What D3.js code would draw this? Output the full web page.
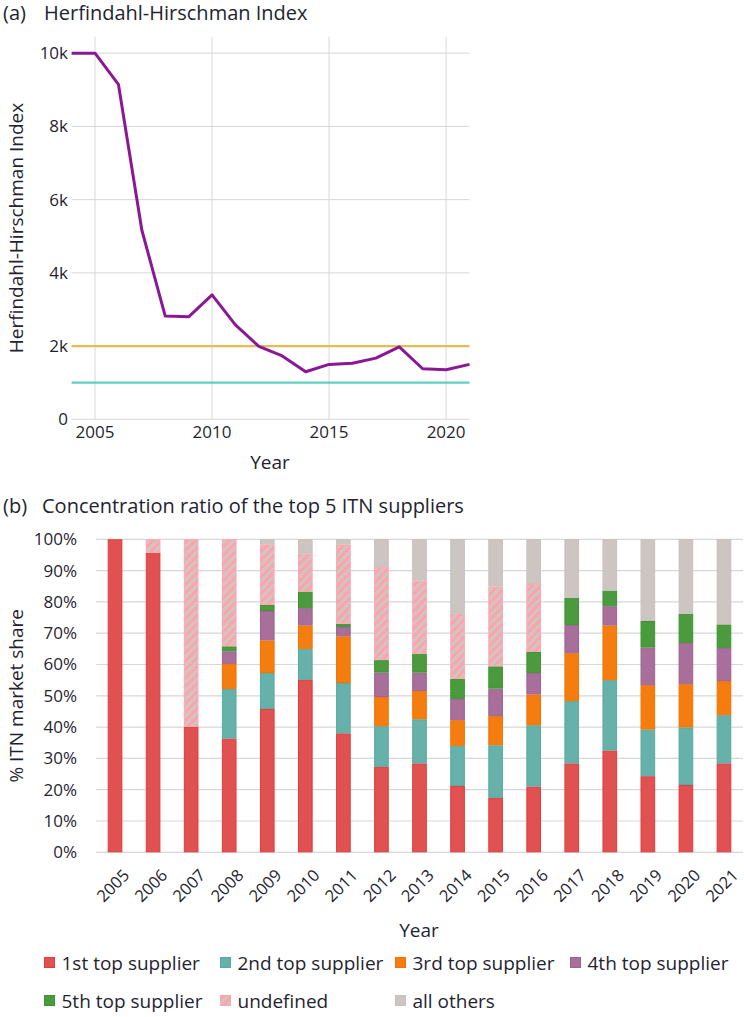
<!DOCTYPE html>
<html>
<head>
<meta charset="utf-8">
<script src="https://d3js.org/d3.v7.min.js"></script>
<style>
  body { margin: 0; background: #fff; }
  text { font-family: "Open Sans", sans-serif; fill: #1f2430; }
</style>
</head>
<body>
<div id="chart"></div>
<script>
// ---- data: panel (a) HHI ----
const hhiYears = [2004, 2005, 2006, 2007, 2008, 2009, 2010, 2011, 2012, 2013, 2014, 2015, 2016, 2017, 2018, 2019, 2020, 2021];
const hhiValues = [10000, 10000, 9150, 5170, 2820, 2800, 3400, 2580, 1990, 1730, 1300, 1500, 1530, 1670, 1980, 1380, 1355, 1500];
const hhiThresholds = [2000, 1000];
const hhiTicks = [0, 2000, 4000, 6000, 8000, 10000];
const hhiYearTicks = [2005, 2010, 2015, 2020];

// ---- data: panel (b) concentration ratio ----
const years = ["2005","2006","2007","2008","2009","2010","2011","2012","2013","2014","2015","2016","2017","2018","2019","2020","2021"];
const first  = [100, 95.7, 40.1, 36.3, 45.8, 55.1, 38.0, 27.3, 28.4, 21.2, 17.4, 21.0, 28.4, 32.5, 24.3, 21.5, 28.4];
const second = [0, 0, 0, 15.9, 11.5, 9.9, 16.1, 13.0, 14.1, 12.8, 16.8, 19.6, 19.9, 22.5, 14.9, 18.4, 15.4];
const third  = [0, 0, 0, 8.0, 10.4, 7.5, 14.9, 9.3, 9.0, 8.2, 9.3, 9.8, 15.3, 17.5, 14.2, 13.8, 10.9];
const fourth = [0, 0, 0, 4.0, 9.4, 5.5, 3.0, 7.8, 5.9, 6.8, 8.8, 6.9, 9.0, 6.1, 12.0, 13.2, 10.6];
const fifth  = [0, 0, 0, 1.6, 1.9, 5.3, 1.0, 4.0, 6.0, 6.4, 7.1, 6.7, 8.7, 5.0, 8.5, 9.3, 7.5];
const undef  = [0, 4.3, 59.9, 34.2, 19.4, 12.1, 25.4, 29.8, 23.4, 20.8, 25.5, 21.7, 0, 0, 0, 0, 0];
const others = [0, 0, 0, 0, 1.6, 4.6, 1.6, 8.8, 13.2, 23.8, 15.1, 14.3, 18.7, 16.4, 26.1, 23.8, 27.2];
const seriesNames = ["1st top supplier", "2nd top supplier", "3rd top supplier", "4th top supplier", "5th top supplier", "undefined", "all others"];
const pctTicks = [0, 10, 20, 30, 40, 50, 60, 70, 80, 90, 100];

const fills   = ["#e05151", "#66b1aa", "#f57d10", "#a96f9b", "#4b9b3e", "url(#hatch)", "#ccc5c2"];
const strokes = ["#e63a3a", "#5aa9a1", "#f07400", "#a0618f", "#3f9432", "#ffa6ad", "#c8c0bd"];

const W = 744, H = 1017;
const svg = d3.select("#chart").append("svg").attr("width", W).attr("height", H);

// hatch pattern for "undefined"
const defs = svg.append("defs");
const pat = defs.append("pattern")
  .attr("id", "hatch").attr("patternUnits", "userSpaceOnUse")
  .attr("width", 6).attr("height", 6)
  .attr("patternTransform", "rotate(45)");
pat.append("rect").attr("width", 6).attr("height", 6).attr("fill", "#ffa3ab");
pat.append("rect").attr("width", 3).attr("height", 6).attr("fill", "#cfc5c4");

const gridColor = "#d7d7db";

// ================= panel (a) =================
svg.append("text").attr("x", 3).attr("y", 20).style("font-size", "20px").text("(a)");
svg.append("text").attr("x", 44).attr("y", 20).style("font-size", "20px").text("Herfindahl-Hirschman Index");

const xA = d3.scaleLinear().domain([2004, 2021]).range([71.6, 469.5]);
const yA = d3.scaleLinear().domain([0, 10450]).range([419.3, 36.7]);

const gA = svg.append("g");
gA.selectAll(".vgrid").data(hhiYearTicks).join("line")
  .attr("x1", d => xA(d)).attr("x2", d => xA(d))
  .attr("y1", yA.range()[1]).attr("y2", yA(0))
  .attr("stroke", gridColor).attr("stroke-width", 1);
gA.selectAll(".hgrid").data(hhiTicks).join("line")
  .attr("x1", xA.range()[0]).attr("x2", xA.range()[1])
  .attr("y1", d => yA(d)).attr("y2", d => yA(d))
  .attr("stroke", gridColor).attr("stroke-width", 1);

gA.selectAll(".ylab").data(hhiTicks).join("text")
  .attr("x", 68).attr("y", d => yA(d)).attr("dy", "0.35em")
  .attr("text-anchor", "end").style("font-size", "17px")
  .text(d => d === 0 ? "0" : (d / 1000) + "k");
gA.selectAll(".xlab").data(hhiYearTicks).join("text")
  .attr("x", d => xA(d)).attr("y", 438)
  .attr("text-anchor", "middle").style("font-size", "17px")
  .text(d => d);

svg.append("text").attr("x", 270).attr("y", 469)
  .attr("text-anchor", "middle").style("font-size", "19px").text("Year");
svg.append("text")
  .attr("transform", "translate(23," + (yA(5225)) + ") rotate(-90)")
  .attr("text-anchor", "middle").style("font-size", "19px")
  .text("Herfindahl-Hirschman Index");

const thrColors = ["#eab73f", "#52cbb8"];
gA.selectAll(".thr").data(hhiThresholds).join("line")
  .attr("x1", xA(2004)).attr("x2", xA(2021))
  .attr("y1", d => yA(d)).attr("y2", d => yA(d))
  .attr("stroke", (d, i) => thrColors[i]).attr("stroke-width", 2.2).attr("opacity", 0.9);

const line = d3.line().x((d, i) => xA(hhiYears[i])).y(d => yA(d));
gA.append("path").datum(hhiValues)
  .attr("d", line).attr("fill", "none")
  .attr("stroke", "#8a1896").attr("stroke-width", 3).attr("stroke-linejoin", "round");

// ================= panel (b) =================
svg.append("text").attr("x", 3).attr("y", 513).style("font-size", "20px").text("(b)");
svg.append("text").attr("x", 42).attr("y", 513).style("font-size", "20px").text("Concentration ratio of the top 5 ITN suppliers");

const xB = d3.scaleBand().domain(years).range([96, 743]).paddingInner(0.615).paddingOuter(0.3075);
const yB = d3.scaleLinear().domain([0, 100]).range([852.3, 539.3]);

const gB = svg.append("g");
gB.selectAll(".hgrid").data(pctTicks).join("line")
  .attr("x1", 96).attr("x2", 743)
  .attr("y1", d => yB(d)).attr("y2", d => yB(d))
  .attr("stroke", gridColor).attr("stroke-width", 1.2);
gB.selectAll(".ylab").data(pctTicks).join("text")
  .attr("x", 77).attr("y", d => yB(d)).attr("dy", "0.35em")
  .attr("text-anchor", "end").style("font-size", "17px")
  .text(d => d + "%");

const table = years.map((y, i) => ({
  year: y, s0: first[i], s1: second[i], s2: third[i], s3: fourth[i], s4: fifth[i], s5: undef[i], s6: others[i]
}));
const keys = ["s0", "s1", "s2", "s3", "s4", "s5", "s6"];
const stacked = d3.stack().keys(keys)(table);

gB.selectAll(".series").data(stacked).join("g")
  .attr("fill", (d, i) => fills[i]).attr("stroke", (d, i) => strokes[i])
  .selectAll("rect").data(d => d.filter(p => p[1] - p[0] > 0)).join("rect")
    .attr("x", d => xB(d.data.year) + 0.5)
    .attr("width", xB.bandwidth() - 1)
    .attr("y", d => yB(d[1]) + 0.5)
    .attr("height", d => Math.max(0, yB(d[0]) - yB(d[1]) - 1))
    .attr("stroke-width", 1);

gB.selectAll(".xlab").data(years).join("text")
  .attr("transform", d => "translate(" + (xB(d) + xB.bandwidth() / 2 + 7) + ",868) rotate(-45)")
  .attr("text-anchor", "end").attr("dy", "0.72em").style("font-size", "16.5px")
  .text(d => d);

svg.append("text").attr("x", 419).attr("y", 937)
  .attr("text-anchor", "middle").style("font-size", "19px").text("Year");
svg.append("text")
  .attr("transform", "translate(23," + yB(50) + ") rotate(-90)")
  .attr("text-anchor", "middle").style("font-size", "19px")
  .text("% ITN market share");

// legend
const legendX = [44, 220, 395, 570, 44, 220, 395];
const legendY = [963, 963, 963, 963, 1001, 1001, 1001];
const legend = svg.append("g");
seriesNames.forEach((name, i) => {
  legend.append("rect")
    .attr("x", legendX[i] + 0.5).attr("y", legendY[i] - 5.5)
    .attr("width", 10).attr("height", 10)
    .attr("fill", fills[i]).attr("stroke", strokes[i]).attr("stroke-width", 1);
  legend.append("text")
    .attr("x", legendX[i] + 17.5).attr("y", legendY[i]).attr("dy", "0.35em")
    .style("font-size", "19px").text(name);
});
</script>
</body>
</html>
